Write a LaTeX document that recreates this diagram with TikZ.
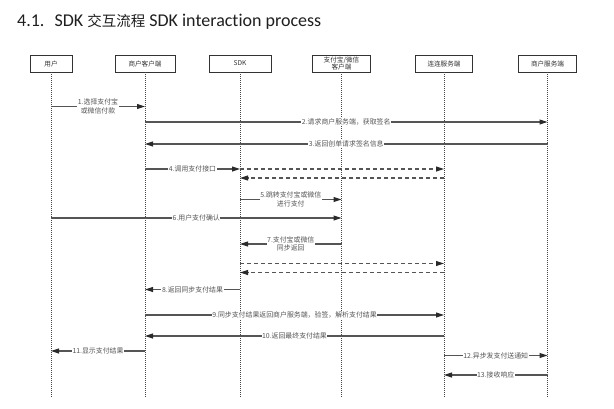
\documentclass[tikz,border=0pt]{standalone}
\usepackage{fontspec}
\setmainfont{Carlito}[Ligatures=NoCommon]
\newfontfamily\cjk{Noto Sans CJK SC}
\usetikzlibrary{arrows.meta}
\definecolor{boxc}{HTML}{333333}
\definecolor{txtc}{HTML}{333333}
\definecolor{linec}{HTML}{555555}
\definecolor{arrc}{HTML}{2A2A2A}
\definecolor{lblc}{HTML}{555555}
\definecolor{lifec}{HTML}{444444}
\begin{document}
\begin{tikzpicture}[x=1pt,y=-1pt,
  lane/.style={draw=boxc, line width=0.8pt, minimum height=17pt, inner sep=0pt, font=\cjk\fontsize{6.6}{7}\selectfont, text=txtc, align=center},
  life/.style={draw=lifec, line width=0.8pt, dash pattern=on 0.9pt off 1.1pt},
  msg/.style={draw=linec, line width=1.1pt, -{Triangle[length=8pt,width=5pt,color=arrc]}},
  dmsg/.style={msg, dash pattern=on 4pt off 3pt},
  lbl/.style={fill=white, inner sep=0.6pt, font=\cjk\fontsize{6.9}{8.5}\selectfont, text=lblc, align=center}]
\useasboundingbox (0,0) rectangle (614,408);
\fill[white] (0,0) rectangle (614,408);
% title
\node[anchor=base west, inner sep=0pt, text=black!88, font=\fontsize{18}{20}\selectfont] (title) at (17,26)
  {4.1.\hspace{10pt}SDK {\cjk\fontsize{14.5}{15}\selectfont 交互流程} SDK interaction process};
% lanes
\node[lane, minimum width=42pt] (u) at (51,63.5) {用户};
\node[lane, minimum width=60pt] (mc) at (145,63.5) {商户客户端};
\node[lane, minimum width=62pt] (sdk) at (240,63.5) {SDK};
\node[lane, minimum width=58pt] (ali) at (341.5,63.5) {支付宝/微信\\客户端};
\node[lane, minimum width=57pt] (ll) at (444,63.5) {连连服务端};
\node[lane, minimum width=58pt] (ms) at (547.5,63.5) {商户服务端};
\coordinate (bot) at (0,397);
\foreach \n in {u,mc,sdk,ali,ll,ms} \draw[life] (\n.south) -- (\n |- bot);
% rows
\coordinate (r1) at (0,106.5);
\coordinate (r2) at (0,122);
\coordinate (r3) at (0,144);
\coordinate (r4) at (0,169);
\coordinate (r4b) at (0,178);
\coordinate (r5) at (0,199.5);
\coordinate (r6) at (0,218);
\coordinate (r7) at (0,244);
\coordinate (r7a) at (0,263.5);
\coordinate (r7b) at (0,272.5);
\coordinate (r8) at (0,289.5);
\coordinate (r9) at (0,315);
\coordinate (r10) at (0,336);
\coordinate (r11) at (0,351);
\coordinate (r12) at (0,355.5);
\coordinate (r13) at (0,375);
% messages
\draw[msg] (u |- r1) -- node[lbl] {1.选择支付宝\\或微信付款} (mc |- r1);
\draw[msg] (mc |- r2) -- node[lbl] {2.请求商户服务端，获取签名} (ms |- r2);
\draw[msg] (ms |- r3) -- node[lbl] {3.返回创单请求签名信息} (mc |- r3);
\draw[msg] (mc |- r4) -- node[lbl] {4.调用支付接口} (sdk |- r4);
\draw[dmsg] (sdk |- r4) -- (ll |- r4);
\draw[dmsg] (ll |- r4b) -- (sdk |- r4b);
\draw[msg] (sdk |- r5) -- node[lbl] {5.跳转支付宝或微信\\进行支付} (ali |- r5);
\draw[msg] (u |- r6) -- node[lbl] {6.用户支付确认} (ali |- r6);
\draw[msg] (ali |- r7) -- node[lbl] {7.支付宝或微信\\同步返回} (sdk |- r7);
\draw[dmsg] (sdk |- r7a) -- (ll |- r7a);
\draw[dmsg] (ll |- r7b) -- (sdk |- r7b);
\draw[msg] (sdk |- r8) -- node[lbl] {8.返回同步支付结果} (mc |- r8);
\draw[msg] (mc |- r9) -- node[lbl] {9.同步支付结果返回商户服务端，验签，解析支付结果} (ll |- r9);
\draw[msg] (ll |- r10) -- node[lbl] {10.返回最终支付结果} (mc |- r10);
\draw[msg] (mc |- r11) -- node[lbl] {11.显示支付结果} (u |- r11);
\draw[msg] (ll |- r12) -- node[lbl] {12.异步发支付送通知} (ms |- r12);
\draw[msg] (ms |- r13) -- node[lbl] {13.接收响应} (ll |- r13);
\end{tikzpicture}
\end{document}
